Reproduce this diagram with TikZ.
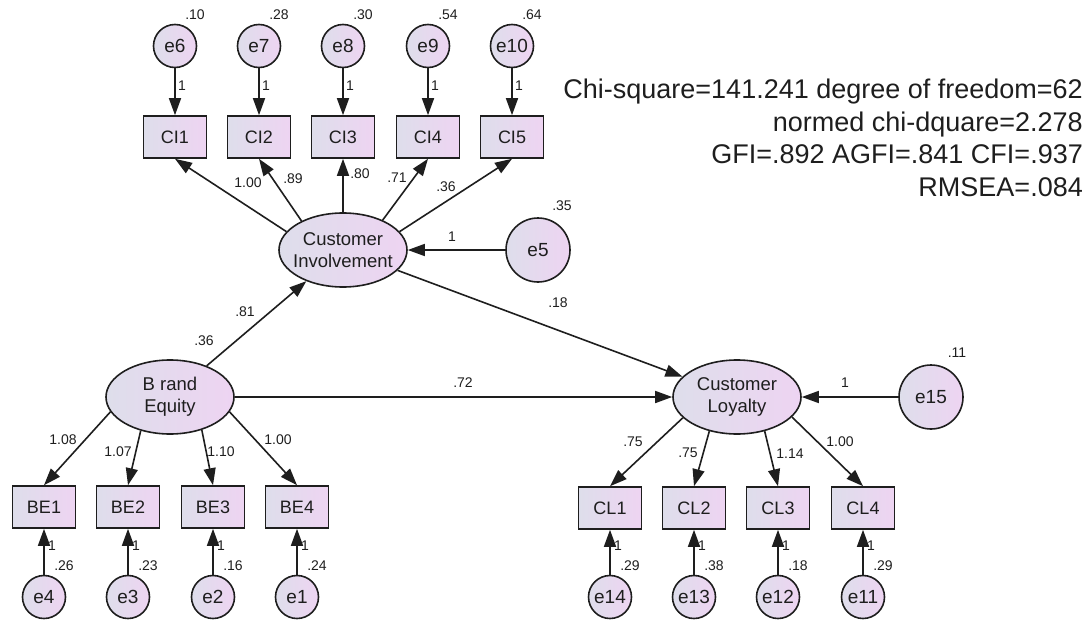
\documentclass[tikz,border=0pt]{standalone}
\usepackage{fontspec}
\setmainfont{Liberation Sans}
\usetikzlibrary{arrows.meta,shapes.geometric}

\definecolor{shadeL}{RGB}{222,222,235}
\definecolor{shadeR}{RGB}{238,212,242}
\definecolor{ink}{RGB}{30,30,30}

\tikzset{
  shapebase/.style={draw=ink, line width=1.6pt, left color=shadeL, right color=shadeR, text=ink, inner sep=0pt},
  obs/.style={shapebase, rectangle, minimum width=63pt, minimum height=42pt, font=\fontsize{18}{20}\selectfont},
  err/.style={shapebase, circle, minimum size=43pt, font=\fontsize{19}{21}\selectfont},
  dist/.style={shapebase, circle, minimum size=64pt, font=\fontsize{19}{21}\selectfont},
  lat/.style={shapebase, ellipse, minimum width=128pt, minimum height=74pt},
  lattxt/.style={align=center, text=ink, font=\fontsize{18.5}{22}\selectfont, inner sep=0pt},
  arr/.style={draw=ink, line width=1.6pt, -{Triangle[length=17pt,width=12pt]}},
  est/.style={font=\fontsize{14}{16}\selectfont, text=ink, inner sep=0pt},
  gof/.style={font=\fontsize{27}{32}\selectfont, text=ink, inner sep=0pt, anchor=base east},
}

\begin{document}
\begin{tikzpicture}[x=1pt,y=-1pt]
\useasboundingbox (0,0) rectangle (1090,621);

% latent variables
\node[lat, label={[lattxt]center:Customer\\Involvement}] (CI) at (343,250) {};
\node[lat, label={[lattxt]center:B rand\\Equity}] (BE) at (170,397) {};
\node[lat, label={[lattxt]center:Customer\\Loyalty}] (CL) at (737,397) {};

% disturbances
\node[dist] (e5) at (538,250) {e5};
\node[dist] (e15) at (931,397) {e15};

% Customer Involvement indicators and their errors
\foreach \i/\x/\v in {1/175/.10, 2/259/.28, 3/343/.30, 4/428/.54, 5/512/.64} {
  \pgfmathtruncatemacro{\en}{\i+5}
  \node[obs] (CI\i) at (\x,137) {CI\i};
  \node[err] (e\en) at (\x,46) {e\en};
  \draw[arr] (e\en) -- (CI\i);
  \node[est] (w\en) at (\x+7,86) {1};
  \node[est] (v\en) at (\x+20,15) {\v};
}

% Brand Equity indicators and their errors
\foreach \i/\x/\en/\v in {1/44/4/.26, 2/128/3/.23, 3/213/2/.16, 4/297/1/.24} {
  \node[obs] (BE\i) at (\x,507) {BE\i};
  \node[err] (e\en) at (\x,597) {e\en};
  \draw[arr] (e\en) -- (BE\i);
  \node[est] (w\en) at (\x+8,546) {1};
  \node[est] (v\en) at (\x+20,566) {\v};
}

% Customer Loyalty indicators and their errors
\foreach \i/\x/\en/\v in {1/610/14/.29, 2/694/13/.38, 3/778/12/.18, 4/863/11/.29} {
  \node[obs] (CL\i) at (\x,508) {CL\i};
  \node[err] (e\en) at (\x,597) {e\en};
  \draw[arr] (e\en) -- (CL\i);
  \node[est] (w\en) at (\x+8,546) {1};
  \node[est] (v\en) at (\x+20,566) {\v};
}

% loadings
\draw[arr] (CI.162) -- (CI1.south);
\draw[arr] (CI.145) -- (CI2.south);
\draw[arr] (CI.90) -- (CI3.south);
\draw[arr] (CI.37) -- (CI4.south);
\draw[arr] (CI.18) -- (CI5.south);

\draw[arr] (BE.194) -- (BE1.north);
\draw[arr] (BE.229) -- (BE2.north);
\draw[arr] (BE.314) -- (BE3.north);
\draw[arr] (BE.346) -- (BE4.north);

\draw[arr] (CL.201) -- (CL1.north);
\draw[arr] (CL.231) -- (CL2.north);
\draw[arr] (CL.309) -- (CL3.north);
\draw[arr] (CL.340) -- (CL4.north);

% structural paths and disturbances
\draw[arr] (BE) -- (CI);
\draw[arr] (BE) -- (CL);
\draw[arr] (CI) -- (CL);
\draw[arr] (e5) -- (CI);
\draw[arr] (e15) -- (CL);

% estimates
\node[est] (lci1) at (248,183) {1.00};
\node[est] (lci2) at (293,179) {.89};
\node[est] (lci3) at (360,174) {.80};
\node[est] (lci4) at (397,178) {.71};
\node[est] (lci5) at (446,187) {.36};

\node[est] (lbe1) at (63,440) {1.08};
\node[est] (lbe2) at (118,452) {1.07};
\node[est] (lbe3) at (221,452) {1.10};
\node[est] (lbe4) at (278,440) {1.00};

\node[est] (lcl1) at (633,442) {.75};
\node[est] (lcl2) at (688,453) {.75};
\node[est] (lcl3) at (790,454) {1.14};
\node[est] (lcl4) at (840,442) {1.00};

\node[est] (pbeci) at (245,312) {.81};
\node[est] (pbecl) at (463,383) {.72};
\node[est] (pcicl) at (558,303) {.18};
\node[est] (w5) at (452,237) {1};
\node[est] (w15) at (845,383) {1};

\node[est] (vbe) at (204,341) {.36};
\node[est] (v5) at (562,206) {.35};
\node[est] (v15) at (957,353) {.11};

% fit statistics
\node[gof] (fit1) at (1083,98) {Chi-square=141.241 degree of freedom=62};
\node[gof] (fit2) at (1083,131) {normed chi-dquare=2.278};
\node[gof] (fit3) at (1083,163) {GFI=.892 AGFI=.841 CFI=.937};
\node[gof] (fit4) at (1083,196) {RMSEA=.084};
\end{tikzpicture}
\end{document}
